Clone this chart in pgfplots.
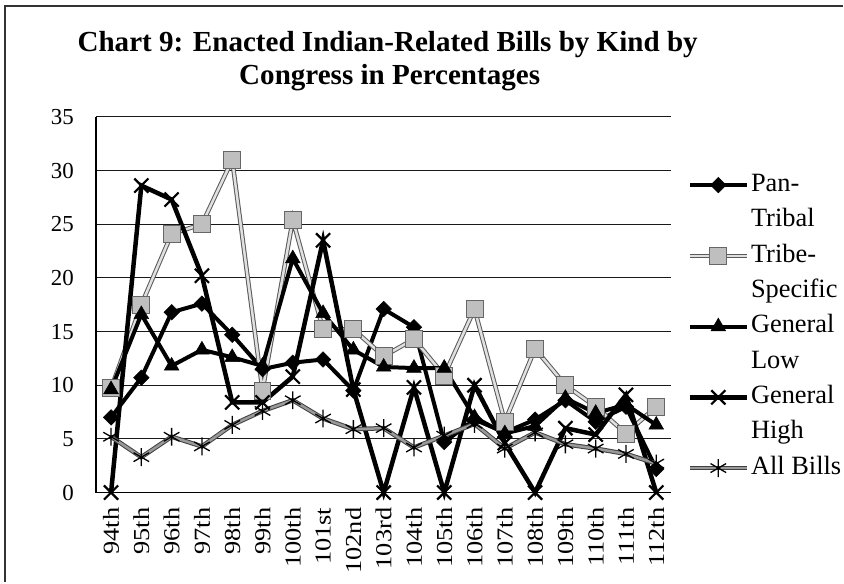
\documentclass[border=0pt]{standalone}
\usepackage{fontspec}
\setmainfont{Liberation Serif}
\newfontfamily\xlabfont{Liberation Serif}[FakeStretch=1.15]
\usepackage{pgfplots}
\pgfplotsset{compat=1.18}
\usepackage{pgfplotstable}

% Share of enacted Indian-related bills by kind, 94th to 112th Congress (percent)
\pgfplotstableread{
x  pan   tribe  glow  ghigh  all
0  7.0   9.7    9.6   0.0    5.2
1  10.7  17.5   16.6  28.6   3.3
2  16.8  24.1   11.8  27.3   5.2
3  17.6  25.0   13.3  20.2   4.3
4  14.7  31.0   12.6  8.4    6.3
5  11.5  9.5    11.8  8.4    7.6
6  12.1  25.4   21.8  10.8   8.6
7  12.4  15.2   16.7  23.5   6.9
8  9.5   15.2   13.3  9.6    5.9
9  17.1  12.7   11.7  0.0    6.0
10 15.4  14.3   11.6  9.8    4.2
11 4.7   10.9   11.6  0.0    5.3
12 6.8   17.1   7.0   10.0   6.4
13 5.6   6.6    5.5   4.6    4.1
14 6.8   13.4   6.2   0.0    5.6
15 8.6   10.0   8.8   6.0    4.5
16 6.6   8.0    7.4   5.4    4.1
17 8.0   5.5    8.2   9.1    3.6
18 2.2   8.0    6.3   0.0    2.7
}\billdata

\begin{document}
\begin{tikzpicture}
% page area and frame
\path (0bp,0bp) rectangle (844bp,583bp);
\draw[line width=1.5bp, black!80] (5bp,0bp) -- (5bp,577bp) -- (844bp,577bp);
% title
\node[font=\bfseries\fontsize{29.2}{32}\selectfont, anchor=base, inner sep=0pt]
  at (388bp,531bp) {Chart 9: Enacted Indian-Related Bills by Kind by};
\node[font=\bfseries\fontsize{29.2}{32}\selectfont, anchor=base, inner sep=0pt]
  at (390bp,498bp) {Congress in Percentages};

\begin{axis}[
  at={(96bp,90bp)}, anchor=south west,
  scale only axis, width=576bp, height=376bp,
  xmin=-0.5, xmax=18.5, ymin=0, ymax=35,
  xtick={0,...,18},
  xticklabels={94th,95th,96th,97th,98th,99th,100th,101st,102nd,103rd,104th,105th,106th,107th,108th,109th,110th,111th,112th},
  ytick={0,5,...,35},
  axis lines=left,
  axis line style={-, black, line width=1.2bp},
  major tick length=0pt,
  ymajorgrids,
  major grid style={black!90, line width=1bp},
  clip=false,
  /pgf/number format/assume math mode=true,
  yticklabel style={font=\fontsize{23}{23}\selectfont, inner sep=0pt, anchor=east, xshift=-22bp},
  xticklabel style={font=\xlabfont\fontsize{23}{23}\selectfont, inner sep=0pt, yshift=-15bp, rotate=90, anchor=east},
  legend style={draw=none, fill=none, at={(1.0278,0.866)}, anchor=north west,
    inner sep=0pt, row sep=0pt, column sep=0pt,
    font=\fontsize{26.5}{26.5}\selectfont,
    nodes={inner ysep=0pt, inner xsep=2bp, text height=24bp, text depth=11.4bp}},
  legend cell align=left,
  legend image code/.code={\draw[mark repeat=2,mark phase=2,#1] plot coordinates {(0bp,0bp) (28.5bp,0bp) (57bp,0bp)};},
]
\addplot[black, line width=4bp, mark=square*, mark size=5.5bp,
  mark options={solid, rotate=45, fill=black, line width=0.5bp}]
  table[x=x, y=pan] {\billdata};
\addlegendentry{Pan-}
\addlegendimage{empty legend}\addlegendentry{Tribal}

\addplot[draw=black!65, line width=1bp, double=black!12, double distance=2.5bp,
  mark=square*, mark size=8.5bp,
  mark options={solid, fill=black!25, draw=black!60, line width=1bp}]
  table[x=x, y=tribe] {\billdata};
\addlegendentry{Tribe-}
\addlegendimage{empty legend}\addlegendentry{Specific}

\addplot[black, line width=4bp, mark=triangle*, mark size=8.5bp,
  mark options={solid, fill=black, line width=0.5bp}]
  table[x=x, y=glow] {\billdata};
\addlegendentry{General}
\addlegendimage{empty legend}\addlegendentry{Low}

\addplot[black, line width=4.5bp, mark=x, mark size=10bp,
  mark options={solid, line width=2.2bp}]
  table[x=x, y=ghigh] {\billdata};
\addlegendentry{General}
\addlegendimage{empty legend}\addlegendentry{High}

\addplot[draw=black!75, line width=1bp, double=black!40, double distance=2.5bp,
  mark=asterisk, mark size=9bp,
  mark options={solid, draw=black, line width=1.3bp}]
  table[x=x, y=all] {\billdata};
\addlegendentry{All Bills}
\end{axis}
\end{tikzpicture}
\end{document}
